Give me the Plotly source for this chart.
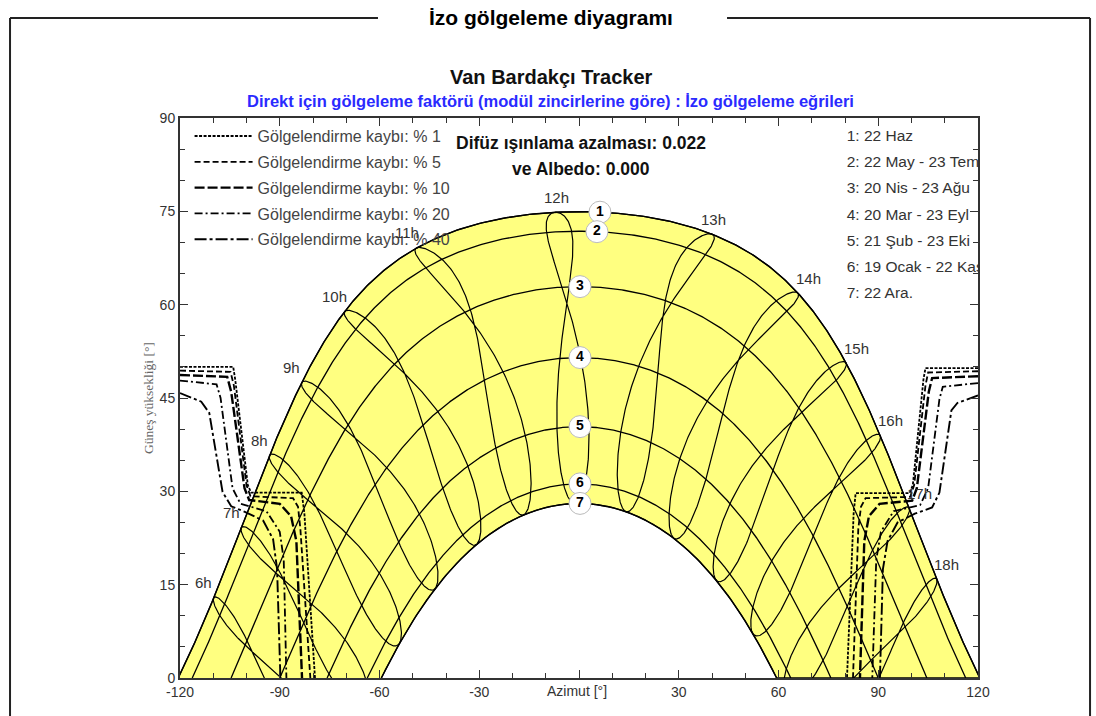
import numpy as np
import plotly.graph_objects as go

# ---- Site (Van, Bardakçı) ----
LATITUDE = 38.5
LONGITUDE = 43.35
TIMEZONE = 3.0

# ---- Sun paths for the reference dates ----
PATH_IDS = [1, 2, 3, 4, 5, 6, 7]
PATH_DECL = [23.44, 20.3, 11.4, 0.0, -11.1, -20.3, -23.44]
PATH_LABEL_AZ = [6.3, 5.4, 0.3, 0.3, 0.3, 0.3, 0.3]
PATH_NAMES = ["1: 22 Haz", "2: 22 May - 23 Tem", "3: 20 Nis - 23 Ağu",
              "4: 20 Mar - 23 Eyl", "5: 21 Şub - 23 Eki",
              "6: 19 Ocak - 22 Kas", "7: 22 Ara."]

# ---- Legal-time hour lines ----
HOURS = [6, 7, 8, 9, 10, 11, 12, 13, 14, 15, 16, 17, 18]
SUMMER_SOLSTICE_DOY = 172

# ---- Axis ticks ----
X_TICKS = [-120, -90, -60, -30, 0, 30, 60, 90, 120]
X_TICK_TEXT = ["-120", "-90", "-60", "-30", "", "30", "60", "90", "120"]
Y_TICKS = [0, 15, 30, 45, 60, 75, 90]

# ---- Iso-shading curves (azimuth, altitude) ----
ISO_LEVELS = [1, 5, 10, 20, 40]
ISO_LEFT_AZ = [
    [-120, -104.0, -103.4, -99.6, -98.6, -83.4, -82.6, -79.4],
    [-120, -104.8, -103.8, -100.0, -98.8, -86.0, -84.5, -83.8, -80.8],
    [-120, -105.8, -104.6, -100.6, -99.2, -90.0, -86.6, -85.0, -83.3],
    [-120, -109.0, -107.8, -104.2, -101.8, -94.0, -90.0, -88.8, -88.0],
    [-120, -113.6, -111.2, -107.2, -104.6, -100.5, -95.0, -92.0, -90.8, -89.8],
]
ISO_LEFT_ALT = [
    [50.0, 50.0, 48.0, 31.0, 29.8, 29.8, 26.5, 0],
    [49.4, 49.2, 47.0, 31.0, 29.2, 28.9, 27.5, 24.0, 0],
    [48.7, 48.4, 46.0, 30.5, 28.6, 28.0, 26.0, 22.0, 0],
    [47.8, 47.2, 45.0, 30.5, 28.0, 26.8, 23.5, 19.0, 0],
    [45.8, 44.4, 42.6, 29.9, 27.6, 26.7, 25.3, 22.3, 17.5, 0],
]
ISO_RIGHT_AZ = [
    [120, 104.2, 103.6, 100.4, 99.4, 83.2, 82.6, 80.6],
    [120, 105.0, 104.2, 100.8, 99.6, 86.2, 84.8, 84.0, 82.4],
    [120, 106.2, 105.2, 101.6, 100.2, 90.4, 87.2, 85.8, 84.5],
    [120, 109.4, 108.4, 105.0, 102.6, 94.6, 90.8, 89.4, 88.2],
    [120, 113.8, 112.0, 108.4, 106.2, 101.0, 95.8, 92.8, 91.4, 90.5],
]
ISO_RIGHT_ALT = [
    [49.8, 49.8, 48.0, 31.0, 29.7, 29.7, 26.5, 0],
    [49.3, 49.1, 47.0, 31.0, 29.1, 28.9, 27.5, 24.0, 0],
    [48.5, 48.2, 46.0, 30.5, 28.5, 28.0, 26.0, 22.0, 0],
    [47.4, 46.8, 44.8, 30.5, 27.8, 26.8, 23.5, 19.0, 0],
    [45.4, 44.2, 43.0, 29.8, 27.4, 26.4, 25.0, 22.0, 17.5, 0],
]
ISO_DASHES = ["3px,1.5px", "6px,3px", "10px,3px", "8px,3px,2px,3px", "12px,3px,3px,3px"]
ISO_WIDTHS = [1.8, 1.8, 2.4, 1.8, 1.9]

DIFFUSE_LOSS = 0.022
ALBEDO_LOSS = 0.000

FONT = "Liberation Sans, Arial, sans-serif"
YELLOW = "#FFFF80"


def sun_position(decl_deg, hour_angle_deg):
    phi = np.radians(LATITUDE)
    d = np.radians(decl_deg)
    h = np.radians(hour_angle_deg)
    sin_alt = np.sin(phi) * np.sin(d) + np.cos(phi) * np.cos(d) * np.cos(h)
    alt = np.degrees(np.arcsin(np.clip(sin_alt, -1, 1)))
    az = np.degrees(np.arctan2(np.sin(h), np.cos(h) * np.sin(phi) - np.tan(d) * np.cos(phi)))
    return az, alt


def declination(doy):
    g = 2 * np.pi * (doy - 1) / 365.0
    return np.degrees(0.006918 - 0.399912 * np.cos(g) + 0.070257 * np.sin(g)
                      - 0.006758 * np.cos(2 * g) + 0.000907 * np.sin(2 * g)
                      - 0.002697 * np.cos(3 * g) + 0.00148 * np.sin(3 * g))


def equation_of_time(doy):
    g = 2 * np.pi * (doy - 1) / 365.0
    return 229.18 * (0.000075 + 0.001868 * np.cos(g) - 0.032077 * np.sin(g)
                     - 0.014615 * np.cos(2 * g) - 0.040849 * np.sin(2 * g))


def hour_angle(legal_hour, doy):
    solar = legal_hour + (LONGITUDE - 15 * TIMEZONE) / 15.0 + equation_of_time(doy) / 60.0
    return 15.0 * (solar - 12.0)


def day_path(decl):
    h0 = np.degrees(np.arccos(-np.tan(np.radians(LATITUDE)) * np.tan(np.radians(decl))))
    return sun_position(decl, np.linspace(-h0, h0, 721))


fig = go.Figure()

paths = [day_path(d) for d in PATH_DECL]

# yellow band between the highest and lowest sun paths
az_top, alt_top = paths[0]
az_bot, alt_bot = paths[-1]
fig.add_trace(go.Scatter(
    x=np.concatenate([az_top, az_bot[::-1]]),
    y=np.concatenate([alt_top, alt_bot[::-1]]),
    fill="toself", fillcolor=YELLOW, mode="lines",
    line=dict(color="black", width=1.4), hoverinfo="skip", showlegend=False))

# hour lines (analemmas over the year)
days = np.arange(1, 367)
for hr in HOURS:
    ha = hour_angle(hr, days)
    az, alt = sun_position(declination(days), ha)
    fig.add_trace(go.Scatter(x=az, y=alt, mode="lines",
                             line=dict(color="black", width=1.2),
                             hoverinfo="skip", showlegend=False))

# date paths
for az, alt in paths:
    fig.add_trace(go.Scatter(x=az, y=alt, mode="lines",
                             line=dict(color="black", width=1.3),
                             hoverinfo="skip", showlegend=False))

# iso-shading curves, both sides in one trace per level
for i, lvl in enumerate(ISO_LEVELS):
    xs = ISO_LEFT_AZ[i] + [None] + ISO_RIGHT_AZ[i]
    ys = ISO_LEFT_ALT[i] + [None] + ISO_RIGHT_ALT[i]
    fig.add_trace(go.Scatter(
        x=xs, y=ys, mode="lines", name=f"Gölgelendirme kaybı: % {lvl}",
        legendgroup=f"g{lvl}",
        line=dict(color="black", width=ISO_WIDTHS[i], dash=ISO_DASHES[i]),
        hoverinfo="skip"))

# numbered markers on the date paths
lab_alt = [float(np.interp(a, p[0], p[1])) for a, p in zip(PATH_LABEL_AZ, paths)]
fig.add_trace(go.Scatter(
    x=PATH_LABEL_AZ, y=lab_alt, mode="markers+text",
    text=[f"<b>{n}</b>" for n in PATH_IDS], textposition="middle center",
    textfont=dict(family=FONT, size=14, color="black"),
    marker=dict(size=22, color="white", line=dict(color="#bbbbbb", width=1)),
    hoverinfo="skip", showlegend=False))

# date list in the upper right corner (clipped at the frame)
fig.add_trace(go.Scatter(
    x=[80.5] * len(PATH_NAMES),
    y=[86.9 - 4.2 * i for i in range(len(PATH_NAMES))],
    mode="text", text=PATH_NAMES, textposition="middle right",
    textfont=dict(family=FONT, size=15.5, color="#333333"),
    cliponaxis=True, hoverinfo="skip", showlegend=False))

annotations = []
# hour labels above the summer-solstice path
for hr in HOURS:
    az, alt = sun_position(declination(SUMMER_SOLSTICE_DOY),
                           hour_angle(hr, SUMMER_SOLSTICE_DOY))
    xs = -10 if hr < 12 else (10 if hr > 13 else 1)
    annotations.append(dict(x=float(az), y=float(alt), xref="x", yref="y",
                            text=f"{hr}h", showarrow=False, xshift=xs, yshift=15,
                            font=dict(family=FONT, size=15, color="#333333")))

annotations += [
    dict(x=0.465, y=1.1786, xref="paper", yref="paper", text="<b>İzo gölgeleme diyagramı</b>",
         showarrow=False, yanchor="middle", font=dict(family=FONT, size=21, color="black")),
    dict(x=0.465, y=1.0732, xref="paper", yref="paper", text="<b>Van Bardakçı Tracker</b>",
         showarrow=False, yanchor="middle", font=dict(family=FONT, size=20, color="#111111")),
    dict(x=0.464, y=1.0304, xref="paper", yref="paper",
         text="<b>Direkt için gölgeleme faktörü (modül zincirlerine göre) : İzo gölgeleme eğrileri</b>",
         showarrow=False, yanchor="middle", font=dict(family=FONT, size=16.5, color="#2a2aff")),
    dict(x=0.5025, y=0.955, xref="paper", yref="paper",
         text=f"<b>Difüz ışınlama azalması: {DIFFUSE_LOSS:.3f}</b>",
         showarrow=False, yanchor="middle", font=dict(family=FONT, size=17.5, color="#111111")),
    dict(x=0.5025, y=0.909, xref="paper", yref="paper",
         text=f"<b>ve Albedo: {ALBEDO_LOSS:.3f}</b>",
         showarrow=False, yanchor="middle", font=dict(family=FONT, size=17.5, color="#111111")),
    dict(x=0.4975, y=-0.023, xref="paper", yref="paper", text="Azimut [°]",
         showarrow=False, yanchor="middle",
         font=dict(family=FONT, size=14, color="#333333")),
    dict(x=-0.040, y=0.50, xref="paper", yref="paper", text="Güneş yüksekliği [°]",
         showarrow=False, textangle=-90, xanchor="center", yanchor="middle",
         font=dict(family="Liberation Serif, Times New Roman, serif", size=13.5, color="#666666")),
]

# outer frame with a gap for the heading
frame = dict(type="line", xref="paper", yref="paper", line=dict(color="#222222", width=2))
shapes = [
    dict(frame, x0=-0.213, x1=0.2481, y0=1.1786, y1=1.1786),
    dict(frame, x0=0.6855, x1=1.1404, y0=1.1786, y1=1.1786),
    dict(frame, x0=-0.213, x1=-0.213, y0=1.1786, y1=-0.08),
    dict(frame, x0=1.1404, x1=1.1404, y0=1.1786, y1=-0.08),
]

axis_common = dict(showgrid=False, zeroline=False, showline=True, linecolor="#333333",
                   linewidth=2, mirror="ticks", ticks="inside", ticklen=8,
                   tickcolor="#333333", tickfont=dict(family=FONT, size=14, color="#333333"))

fig.update_layout(
    width=1096, height=716,
    margin=dict(l=180, r=118, t=118, b=38),
    paper_bgcolor="white", plot_bgcolor="white",
    xaxis=dict(axis_common, range=[-120, 120], tickvals=X_TICKS, ticktext=X_TICK_TEXT,
               minor=dict(dtick=10, ticks="inside", ticklen=5, tickcolor="#333333")),
    yaxis=dict(axis_common, range=[0, 90], tickvals=Y_TICKS,
               minor=dict(dtick=5, ticks="inside", ticklen=5, tickcolor="#333333")),
    legend=dict(x=0.012, y=0.998, xanchor="left", yanchor="top",
                bgcolor="rgba(0,0,0,0)", tracegroupgap=2, itemwidth=58,
                font=dict(family=FONT, size=16, color="#444444")),
    annotations=annotations, shapes=shapes,
)

fig.write_html("out.html")
